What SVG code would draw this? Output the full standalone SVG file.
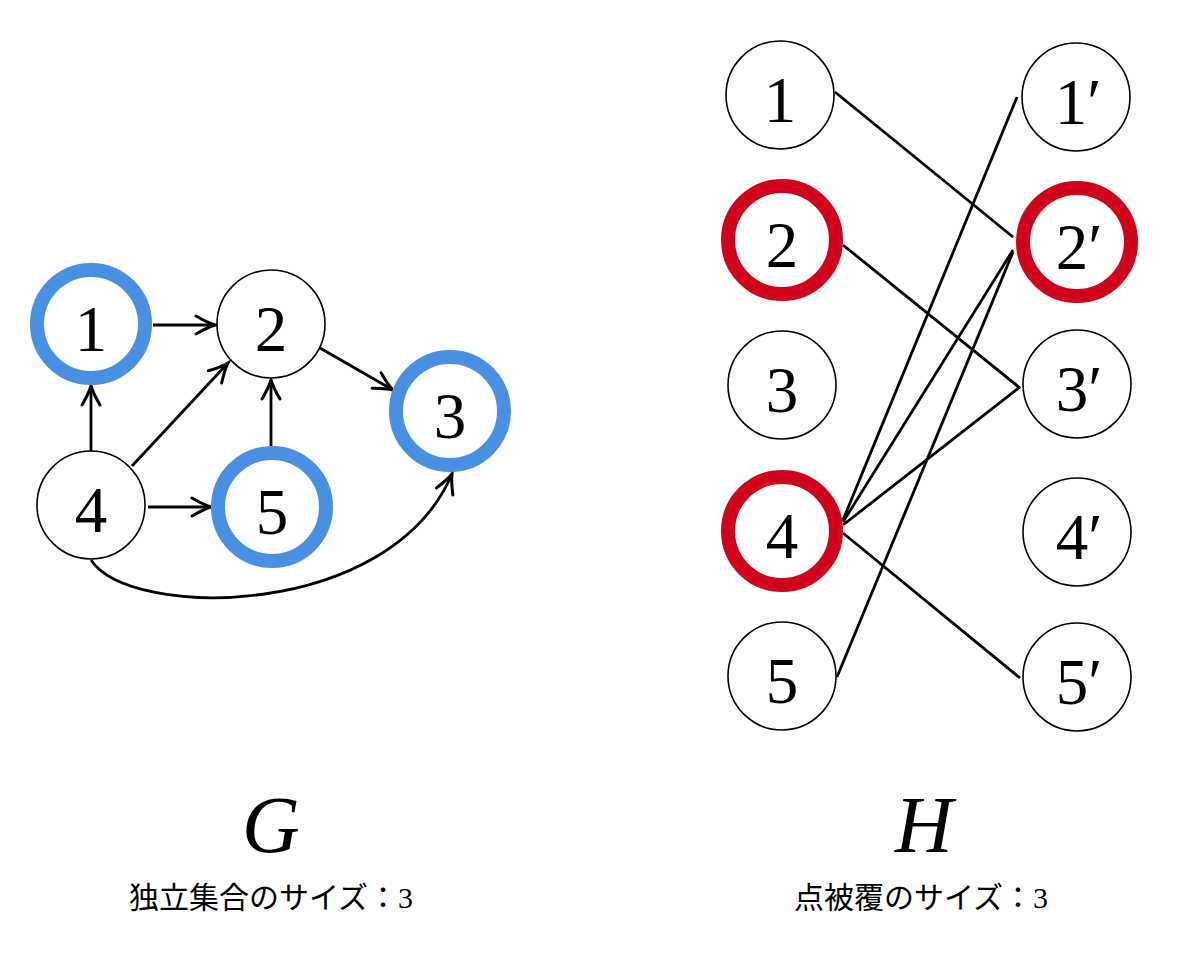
<svg xmlns="http://www.w3.org/2000/svg" width="1200" height="966" viewBox="0 0 1200 966">
  <style>
    .node { fill: #ffffff; stroke: #000000; stroke-width: 1.6; }
    .blue { fill: #ffffff; stroke: #4A90E2; stroke-width: 14; }
    .red { fill: #ffffff; stroke: #D0021B; stroke-width: 14; }
    .num { font-family: "Liberation Serif", "DejaVu Serif", serif; font-size: 65px; fill: #000; text-anchor: middle; }
    .edge { fill: none; stroke: #000; stroke-width: 2.8; }
    .arrow { fill: none; stroke: #000; stroke-width: 2.8; marker-end: url(#ah); }
    .big { font-family: "Liberation Serif", "DejaVu Serif", serif; font-style: italic; font-size: 80px; fill: #000; text-anchor: middle; }
    .cap { font-family: "Noto Sans CJK JP", "Noto Sans", sans-serif; font-size: 30px; fill: #000; text-anchor: middle; }
    .capnum { font-family: "Liberation Serif", serif; }
  </style>
  <defs>
    <marker id="ah" markerUnits="userSpaceOnUse" markerWidth="40" markerHeight="40" viewBox="-20 -20 40 40" refX="0" refY="0" orient="auto" overflow="visible">
      <path d="M-19,-9 Q-7,-2 0,0 Q-7,2 -19,9" fill="none" stroke="#000" stroke-width="3" stroke-linecap="round"/>
    </marker>
  </defs>
  <rect x="0" y="0" width="1200" height="966" fill="#ffffff"/>

  <g id="connectors">
    <line class="arrow" x1="153" y1="325" x2="215" y2="325"/>
    <line class="arrow" x1="91" y1="451" x2="91" y2="386"/>
    <line class="arrow" x1="132" y1="466" x2="228" y2="363"/>
    <line class="arrow" x1="271" y1="446" x2="271" y2="380"/>
    <line class="arrow" x1="320" y1="348" x2="393" y2="390"/>
    <line class="arrow" x1="148" y1="507" x2="211" y2="507"/>
    <path class="arrow" d="M91,560 C130,620 390,620 452,474"/>

    <line class="edge" x1="835" y1="92" x2="1013" y2="237"/>
    <line class="edge" x1="843" y1="245" x2="1020" y2="388"/>
    <line class="edge" x1="843" y1="520" x2="1017" y2="97"/>
    <line class="edge" x1="843" y1="522" x2="1013" y2="250"/>
    <line class="edge" x1="843" y1="525" x2="1020" y2="387"/>
    <line class="edge" x1="843" y1="533" x2="1020" y2="678"/>
    <line class="edge" x1="837" y1="677" x2="1013" y2="252"/>
  </g>

  <g id="G-1"><circle class="blue" cx="91" cy="324" r="54"/><text class="num" x="91" y="351">1</text></g>
  <g id="G-2"><circle class="node" cx="271" cy="324" r="54"/><text class="num" x="271" y="351">2</text></g>
  <g id="G-3"><circle class="blue" cx="450" cy="411" r="54"/><text class="num" x="450" y="438">3</text></g>
  <g id="G-4"><circle class="node" cx="91" cy="505" r="54"/><text class="num" x="91" y="532">4</text></g>
  <g id="G-5"><circle class="blue" cx="272" cy="507" r="54"/><text class="num" x="272" y="534">5</text></g>

  <g id="H-1"><circle class="node" cx="780" cy="95" r="54"/><text class="num" x="780" y="122">1</text></g>
  <g id="H-2"><circle class="red" cx="782" cy="240" r="54"/><text class="num" x="782" y="267">2</text></g>
  <g id="H-3"><circle class="node" cx="782" cy="385" r="54"/><text class="num" x="782" y="412">3</text></g>
  <g id="H-4"><circle class="red" cx="782" cy="531" r="54"/><text class="num" x="782" y="558">4</text></g>
  <g id="H-5"><circle class="node" cx="782" cy="676" r="54"/><text class="num" x="782" y="703">5</text></g>

  <g id="H-1p"><circle class="node" cx="1076" cy="97" r="54"/><text class="num" x="1078" y="124">1′</text></g>
  <g id="H-2p"><circle class="red" cx="1077" cy="242" r="54"/><text class="num" x="1079" y="269">2′</text></g>
  <g id="H-3p"><circle class="node" cx="1077" cy="384" r="54"/><text class="num" x="1079" y="411">3′</text></g>
  <g id="H-4p"><circle class="node" cx="1077" cy="532" r="54"/><text class="num" x="1079" y="559">4′</text></g>
  <g id="H-5p"><circle class="node" cx="1077" cy="677" r="54"/><text class="num" x="1079" y="704">5′</text></g>

  <g id="labels">
    <text class="big" x="271" y="852">G</text>
    <text class="big" x="924" y="852">H</text>
    <text class="cap" x="271" y="908">独立集合のサイズ：<tspan class="capnum">3</tspan></text>
    <text class="cap" x="921" y="908">点被覆のサイズ：<tspan class="capnum">3</tspan></text>
  </g>
</svg>
